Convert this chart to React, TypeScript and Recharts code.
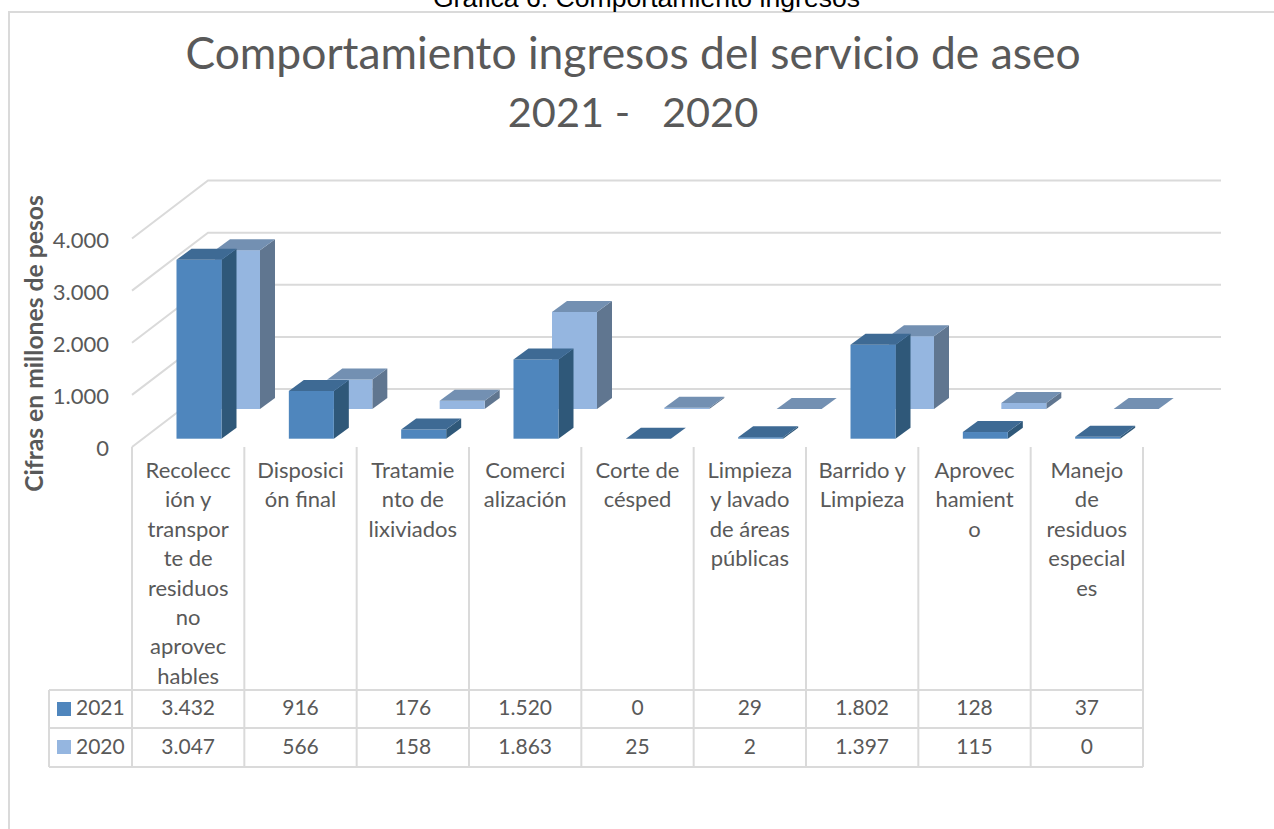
import React from "react";
import { BarChart, Bar, XAxis, YAxis, CartesianGrid } from "recharts";

const categories = [
  "Recolección y transporte de residuos no aprovechables",
  "Disposición final",
  "Tratamiento de lixiviados",
  "Comercialización",
  "Corte de césped",
  "Limpieza y lavado de áreas públicas",
  "Barrido y Limpieza",
  "Aprovechamiento",
  "Manejo de residuos especiales",
];
const categoryLines = [
  ["Recolecc", "ión y", "transpor", "te de", "residuos", "no", "aprovec", "hables"],
  ["Disposici", "ón final"],
  ["Tratamie", "nto de", "lixiviados"],
  ["Comerci", "alización"],
  ["Corte de", "césped"],
  ["Limpieza", "y lavado", "de áreas", "públicas"],
  ["Barrido y", "Limpieza"],
  ["Aprovec", "hamient", "o"],
  ["Manejo", "de", "residuos", "especial", "es"],
];
const values2021 = [3432, 916, 176, 1520, 0, 29, 1802, 128, 37];
const values2020 = [3047, 566, 158, 1863, 25, 2, 1397, 115, 0];
const yTicks = [0, 1000, 2000, 3000, 4000];

const data = categories.map((category, i) => ({
  category,
  v2021: values2021[i],
  v2020: values2020[i],
}));

const fmt = (n: number) => String(n).replace(/\B(?=(\d{3})+(?!\d))/g, ".");

const GRID = "#DADADA";
const TEXT = "#595959";
const FONT = "Lato, sans-serif";
const PLOT_LEFT = 132;
const PLOT_RIGHT = 1143;
const FLOOR_Y = 447;
const ROW1 = 690;
const ROW2 = 728;
const ROW3 = 767;
const TABLE_LEFT = 49;
const DEPTH_X = 76;
const DEPTH_Y = 58;
const WALL_RIGHT = 1221;
const BAR_DX = 15;
const BAR_DY = 11;

const makeBox = (colors: { front: string; side: string; top: string }, dx: number, dy: number) => (p: any) => {
  const x = p.x + dx;
  const y = p.y + dy;
  const w = p.width;
  const h = p.height;
  return (
    <g>
      <polygon
        points={`${x + w},${y} ${x + w + BAR_DX},${y - BAR_DY} ${x + w + BAR_DX},${y + h - BAR_DY} ${x + w},${y + h}`}
        fill={colors.side}
      />
      <rect x={x} y={y} width={w} height={h} fill={colors.front} />
      <polygon
        points={`${x},${y} ${x + w},${y} ${x + w + BAR_DX},${y - BAR_DY} ${x + BAR_DX},${y - BAR_DY}`}
        fill={colors.top}
      />
    </g>
  );
};

const frontShape = makeBox({ front: "#4F86BD", side: "#2F5879", top: "#3E6A94" }, 10.5, -8.3);
const backShape = makeBox({ front: "#95B6E0", side: "#607690", top: "#7390B2" }, 49, -38);

const WallLine = (p: any) => {
  const y = p.y1;
  return (
    <polyline
      key={p.key}
      points={`${PLOT_LEFT},${y} ${PLOT_LEFT + DEPTH_X},${y - DEPTH_Y} ${WALL_RIGHT},${y - DEPTH_Y}`}
      fill="none"
      stroke={GRID}
      strokeWidth={2}
    />
  );
};

const YTick = (p: any) => (
  <text x={109} y={p.y + 9} textAnchor="end" fill={TEXT} fontFamily={FONT} fontSize={22}>
    {fmt(p.payload.value)}
  </text>
);

const XTick = (p: any) => {
  const { x, index } = p;
  const half = (PLOT_RIGHT - PLOT_LEFT) / categories.length / 2;
  const textProps = { textAnchor: "middle" as const, fill: TEXT, fontFamily: FONT };
  return (
    <g>
      {index === 0 && (
        <g>
          <line x1={PLOT_LEFT} x2={PLOT_LEFT} y1={FLOOR_Y} y2={ROW3} stroke={GRID} strokeWidth={2} />
          <line x1={TABLE_LEFT} x2={TABLE_LEFT} y1={ROW1} y2={ROW3} stroke={GRID} strokeWidth={2} />
          {[ROW1, ROW2, ROW3].map((r) => (
            <line key={r} x1={TABLE_LEFT} x2={PLOT_RIGHT} y1={r} y2={r} stroke={GRID} strokeWidth={2} />
          ))}
          <rect x={57} y={702} width={14} height={14} fill="#4F86BD" />
          <rect x={57} y={740} width={14} height={14} fill="#95B6E0" />
          <text x={76} y={715} fill={TEXT} fontFamily={FONT} fontSize={21}>2021</text>
          <text x={76} y={754} fill={TEXT} fontFamily={FONT} fontSize={21}>2020</text>
        </g>
      )}
      <line x1={x + half} x2={x + half} y1={FLOOR_Y} y2={ROW3} stroke={GRID} strokeWidth={2} />
      {categoryLines[index].map((t, i) => (
        <text key={i} x={x} y={478 + i * 29.4} fontSize={22} {...textProps}>{t}</text>
      ))}
      <text x={x} y={715} fontSize={21} {...textProps}>{fmt(values2021[index])}</text>
      <text x={x} y={754} fontSize={21} {...textProps}>{fmt(values2020[index])}</text>
    </g>
  );
};

const YTitle = () => (
  <text
    transform="translate(43,343.5) rotate(-90)"
    textAnchor="middle"
    fill={TEXT}
    fontFamily={FONT}
    fontWeight={700}
    fontSize={24.7}
  >
    Cifras en millones de pesos
  </text>
);

const titleStyle: React.CSSProperties = {
  position: "absolute", left: 0, width: 1266, textAlign: "center",
  fontFamily: FONT, fontWeight: 400, lineHeight: "60px", color: TEXT, whiteSpace: "pre",
};

export default function App() {
  return (
    <div style={{ position: "absolute", left: 0, top: 0, width: 1274, height: 829, overflow: "hidden", background: "#fff" }}>
      <div
        style={{
          position: "absolute", left: 8, top: 11, width: 1266, height: 818,
          borderLeft: `2px solid ${GRID}`, borderTop: `2px solid ${GRID}`, boxSizing: "border-box",
        }}
      />
      <div
        style={{
          position: "absolute", left: 0, width: 1293, top: -18, textAlign: "center",
          fontFamily: "'Liberation Sans', sans-serif", fontSize: 26.6, lineHeight: "32px", color: "#000",
          whiteSpace: "nowrap",
        }}
      >
        Gráfica 6. Comportamiento ingresos
      </div>
      <div style={{ ...titleStyle, top: 22, fontSize: 44.4 }}>Comportamiento ingresos del servicio de aseo</div>
      <div style={{ ...titleStyle, top: 81, fontSize: 41.5 }}>{"2021 -   2020"}</div>
      <BarChart
        width={1274}
        height={829}
        data={data}
        margin={{ top: 238.5, left: 0, right: 131, bottom: 0 }}
        barSize={45}
        barGap={-45}
        style={{ position: "absolute", left: 0, top: 0 }}
      >
        <CartesianGrid horizontal={WallLine} vertical={false} />
        <YAxis
          width={132}
          domain={[0, 4000]}
          ticks={yTicks}
          interval={0}
          axisLine={false}
          tickLine={false}
          tick={YTick}
          label={{ content: YTitle }}
        />
        <XAxis
          dataKey="category"
          height={382}
          interval={0}
          axisLine={false}
          tickLine={false}
          tick={XTick}
        />
        <Bar dataKey="v2020" shape={backShape} isAnimationActive={false} />
        <Bar dataKey="v2021" shape={frontShape} isAnimationActive={false} />
      </BarChart>
    </div>
  );
}
